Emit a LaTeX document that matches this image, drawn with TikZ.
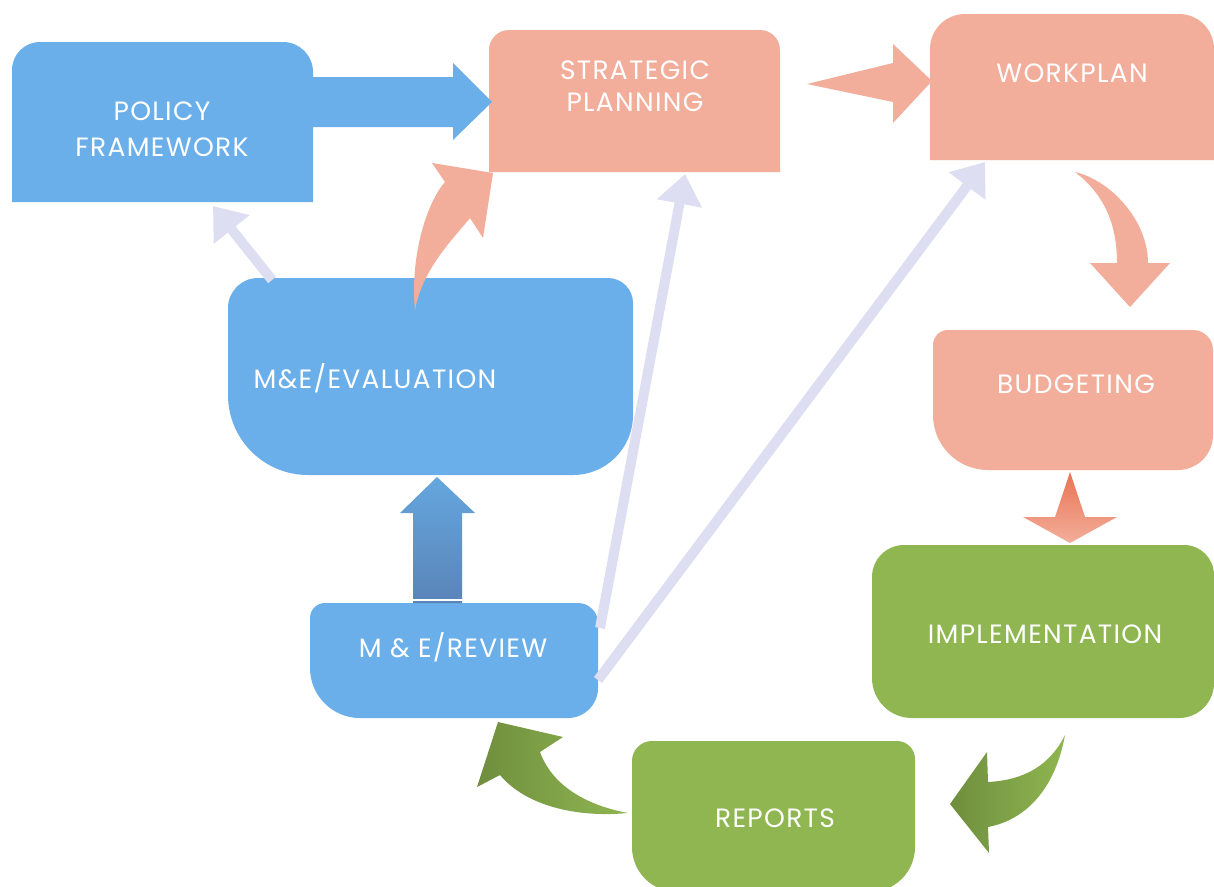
\documentclass[tikz,border=0pt]{standalone}
\usepackage{fontspec}
\setmainfont{Poppins}[LetterSpace=5]
\usetikzlibrary{arrows.meta}
\definecolor{pblue}{HTML}{6AAFE9}
\definecolor{psal}{HTML}{F2AE9A}
\definecolor{pgreen}{HTML}{8FB650}
\definecolor{plav}{HTML}{DEDEF2}
\definecolor{pdblue}{HTML}{5A84B8}
\definecolor{porange}{HTML}{EA7355}
\newcommand\rbox[9]{\fill[#9] (#1,{#2+#5}) arc[start angle=180,end angle=270,radius=#5] -- ({#3-#6},#2) arc[start angle=270,end angle=360,radius=#6] -- (#3,{#4-#7}) arc[start angle=0,end angle=90,radius=#7] -- ({#1+#8},#4) arc[start angle=90,end angle=180,radius=#8] -- cycle;}
\tikzset{
  lbl/.style={text=white, align=center, inner sep=0pt, font=\fontsize{26.5}{32}\selectfont},
  lavarrow/.style={draw=plav, line width=10pt, -{Triangle[length=30pt,width=44pt]}},
}
\begin{document}
\begin{tikzpicture}[x=1pt,y=-1pt]
\useasboundingbox (0,0) rectangle (1214,886);
\fill[white] (0,0) rectangle (1214,886);
\begin{scope}
\clip (0,0) rectangle (1214,886);
% boxes
\rbox{12}{42}{313}{202}{28}{30}{0.01}{0.01}{pblue}
\rbox{489}{30}{780}{172}{20}{20}{0.01}{0.01}{psal}
\rbox{930}{14}{1214}{160}{35}{35}{0.01}{0.01}{psal}
\rbox{228}{278}{633}{475}{30}{25}{60}{80}{pblue}
\rbox{310}{603}{598}{718}{15}{20}{30}{50}{pblue}
\rbox{933}{330}{1213}{470}{15}{20}{35}{55}{psal}
\rbox{872}{545}{1214}{718}{32}{30}{35}{40}{pgreen}
\rbox{632}{741}{915}{892}{20}{18}{45}{45}{pgreen}
\end{scope}
% labels
\node[lbl] (policy) at (162,129) {POLICY\\[4pt]FRAMEWORK};
\node[lbl] (strat) at (635,86) {STRATEGIC\\PLANNING};
\node[lbl] (work) at (1072,73) {WORKPLAN};
\node[lbl] (eval) at (375,378) {M\&E/EVALUATION};
\node[lbl] (review) at (453,647) {M \& E/REVIEW};
\node[lbl] (budget) at (1076,384) {BUDGETING};
\node[lbl] (impl) at (1045,634) {IMPLEMENTATION};
\node[lbl] (reports) at (775,818) {REPORTS};
% anchor coordinates for connectors
\coordinate (evalTop) at (272,280);
\coordinate (policyBot) at (213,206);
\coordinate (reviewR1) at (600,628);
\coordinate (stratBot) at (685,174);
\coordinate (reviewR2) at (598,680);
\coordinate (workBot) at (985,162);
% lavender connectors
\draw[lavarrow] (evalTop) -- (policyBot);
\draw[lavarrow] (reviewR1) -- (stratBot);
\draw[lavarrow] (reviewR2) -- (workBot);
% blue straight arrow policy -> strategic
\fill[pblue] (313,77) -- (453,77) -- (453,63) -- (492,102) -- (453,140) -- (453,127) -- (313,127) -- cycle;
% blue up arrow review -> evaluation
\shade[top color=pblue!95!black, bottom color=pdblue] (413,603) -- (413,513) -- (400,513) -- (437,477) -- (475,513) -- (462,513) -- (462,603) -- cycle;
\fill[white] (413,598.5) rectangle (462,601);
% salmon curved arrow evaluation -> strategic
\fill[psal] (415,310) .. controls (410,260) and (425,205) .. (445,182) -- (432,163) -- (493,173) -- (483,238) -- (470,218) .. controls (452,240) and (422,270) .. (415,310) -- cycle;
% salmon arrow strategic -> workplan
\fill[psal] (807,84) -- (893,63) -- (893,44) -- (932,81) -- (893,123) -- (893,102) -- cycle;
% salmon curved arrow workplan -> budgeting
\fill[psal] (1075,172) .. controls (1110,180) and (1148,220) .. (1148,263) -- (1170,263) -- (1130,307) -- (1090,263) -- (1117,263) .. controls (1117,225) and (1105,195) .. (1075,172) -- cycle;
% budgeting -> implementation
\shade[top color=porange, bottom color=psal] (1070,472) -- (1085,517) -- (1117,517) -- (1070,543) -- (1023,517) -- (1055,517) -- cycle;
% green curved arrow implementation -> reports
\shade[left color=pgreen!78!black, middle color=pgreen, right color=pgreen] (1065,735) .. controls (1055,790) and (1025,820) .. (988,827) -- (989,853) -- (950,804) -- (987,752) -- (988,782) .. controls (1025,780) and (1050,765) .. (1065,735) -- cycle;
% green curved arrow reports -> review
\shade[left color=pgreen!78!black, middle color=pgreen, right color=pgreen] (628,813) .. controls (575,818) and (525,805) .. (500,775) -- (477,787) -- (498,722) -- (563,737) -- (540,752) .. controls (552,785) and (585,805) .. (628,813) -- cycle;
\end{tikzpicture}
\end{document}
